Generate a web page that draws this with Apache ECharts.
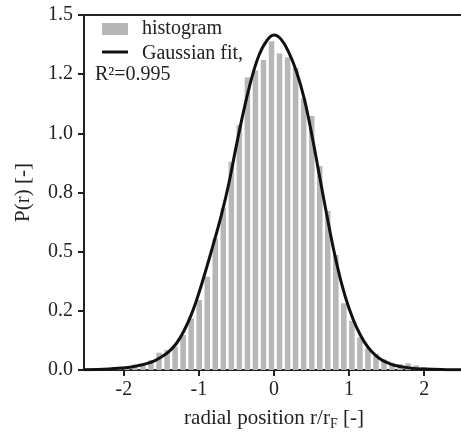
<!DOCTYPE html>
<html><head><meta charset="utf-8">
<script src="https://cdn.jsdelivr.net/npm/echarts@6/dist/echarts.min.js"></script>
<style>html,body{margin:0;padding:0;background:#fff}#c{width:461px;height:433px}</style>
</head><body><div id="c"></div>
<script>
// histogram bin centres (r/rF) and heights P(r)
const binCenters = [-2.494,-2.387,-2.280,-2.173,-2.066,-1.959,-1.852,-1.745,-1.638,-1.531,-1.424,-1.317,-1.210,-1.103,-0.996,-0.889,-0.782,-0.675,-0.568,-0.461,-0.354,-0.247,-0.140,-0.033,0.074,0.181,0.288,0.395,0.502,0.609,0.716,0.823,0.930,1.037,1.144,1.251,1.358,1.465,1.572,1.679,1.786,1.893,2.000,2.107,2.214,2.321,2.428];
const binHeights = [0.002,0.004,0.005,0.008,0.012,0.016,0.022,0.030,0.041,0.073,0.085,0.098,0.148,0.218,0.296,0.394,0.556,0.683,0.880,1.035,1.236,1.266,1.310,1.389,1.337,1.321,1.276,1.148,1.073,0.862,0.672,0.486,0.282,0.208,0.138,0.092,0.068,0.045,0.031,0.025,0.028,0.020,0.012,0.008,0.005,0.003,0.002];
// Gaussian fit curve
const fitX = [-2.53,-2.2,-2.0,-1.9,-1.8,-1.7,-1.6,-1.5,-1.4,-1.3,-1.2,-1.1,-1.0,-0.9,-0.8,-0.7,-0.6,-0.5,-0.4,-0.3,-0.2,-0.1,0.0,0.1,0.2,0.3,0.4,0.5,0.6,0.7,0.8,0.9,1.0,1.1,1.2,1.3,1.4,1.5,1.6,1.8,2.0,2.3,2.53];
const fitY = [0.001,0.004,0.009,0.013,0.019,0.027,0.038,0.055,0.078,0.112,0.165,0.235,0.325,0.43,0.54,0.655,0.79,0.95,1.10,1.23,1.33,1.39,1.415,1.395,1.34,1.26,1.15,1.00,0.83,0.66,0.50,0.365,0.26,0.18,0.12,0.078,0.05,0.032,0.02,0.009,0.004,0.0015,0.001];
const xTicks = [-2,-1,0,1,2];
const yTickLabels = ['0.0','0.2','0.5','0.8','1.0','1.2','1.5'];
const legendLabels = ['histogram','Gaussian fit,','R²=0.995'];

const FONT = 'Liberation Serif';
const INK = '#222';
const BAR = '#b7b7b7';
const chart = echarts.init(document.getElementById('c'), null, {renderer:'canvas'});
chart.setOption({
  animation:false,
  backgroundColor:'#fff',
  grid:{left:84, top:15, width:380, height:355, outerBoundsMode:'none', containLabel:false,
        show:true, borderColor:INK, borderWidth:2, backgroundColor:'transparent'},
  graphic:[
    {type:'rect', shape:{x:102, y:23, width:26, height:12}, style:{fill:BAR}},
    {type:'line', shape:{x1:102, y1:52, x2:128, y2:52}, style:{stroke:'#111', lineWidth:3}},
    {type:'text', x:142, y:29, style:{text:legendLabels[0], font:'20px "Liberation Serif"', fill:INK, verticalAlign:'middle'}},
    {type:'text', x:142, y:54, style:{text:legendLabels[1], font:'20px "Liberation Serif"', fill:INK, verticalAlign:'middle'}},
    {type:'text', x:95, y:75, style:{text:legendLabels[2], font:'20px "Liberation Serif"', fill:INK, verticalAlign:'middle'}}
  ],
  xAxis:{
    type:'value', min:-2.53, max:2.53,
    name:'radial position r/r{sub|F} [-]', nameLocation:'middle', nameGap:35,
    nameTextStyle:{fontFamily:FONT, fontSize:21, color:INK, lineHeight:26, rich:{sub:{fontFamily:FONT, fontSize:14, color:INK, verticalAlign:'bottom', lineHeight:14}}},
    axisLine:{show:true, onZero:false, lineStyle:{color:INK, width:2}},
    axisTick:{show:true, customValues:xTicks, length:6, lineStyle:{color:INK, width:2}},
    axisLabel:{customValues:xTicks, fontFamily:FONT, fontSize:20, color:INK, margin:10, formatter:v=>String(v)},
    splitLine:{show:false}
  },
  yAxis:{
    type:'value', min:0, max:1.5, interval:0.25,
    name:'P(r) [-]', nameLocation:'middle', nameGap:50, nameRotate:90,
    nameTextStyle:{fontFamily:FONT, fontSize:21, color:INK},
    axisLine:{show:true, onZero:false, lineStyle:{color:INK, width:2}},
    axisTick:{show:true, length:6, lineStyle:{color:INK, width:2}},
    axisLabel:{fontFamily:FONT, fontSize:20, color:INK, margin:11, formatter:v=>yTickLabels[Math.round(v*4)]},
    splitLine:{show:false}
  },
  series:[
    {name:'histogram', type:'custom', z:2, clip:true,
     data:binCenters.map((x,i)=>[x,binHeights[i]]),
     renderItem:function(params, api){
       const x = api.value(0), y = api.value(1);
       const p0 = api.coord([x, 0]);
       const p1 = api.coord([x, y]);
       const w = 5.5;
       return {type:'rect', shape:{x:p0[0]-w/2, y:p1[1], width:w, height:p0[1]-p1[1]}, style:{fill:BAR}};
     }},
    {name:'Gaussian fit,', type:'line', smooth:0.4, symbol:'none', showSymbol:false,
     lineStyle:{color:'#111', width:3}, itemStyle:{color:'#111'},
     data:fitX.map((x,i)=>[x,fitY[i]]), z:3}
  ]
});
</script></body></html>
